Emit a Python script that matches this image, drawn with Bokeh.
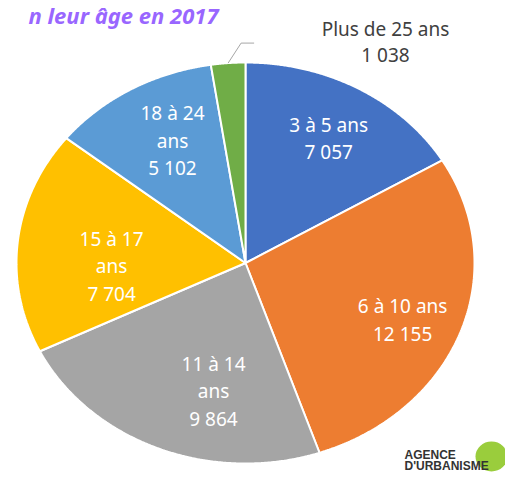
import numpy as np
from bokeh.plotting import figure
from bokeh.models import Range1d
from bokeh.core.properties import value
from bokeh.embed import file_html
from bokeh.resources import INLINE

# ---- data ----
categories = ["3 à 5 ans", "6 à 10 ans", "11 à 14 ans", "15 à 17 ans", "18 à 24 ans", "Plus de 25 ans"]
counts = [7057, 12155, 9864, 7704, 5102, 1038]
colors = ["#4472C4", "#ED7D31", "#A5A5A5", "#FFC000", "#5B9BD5", "#70AD47"]
title_text = "n leur âge en 2017"

# ---- layout (screen pixel space) ----
W, H = 505, 473
CX, CY = 245.0, 262.5
RX, RY = 229.0, 200.5
wrap = [False, False, True, True, True, False]
label_r = [0.72, 0.743, 0.655, 0.585, 0.688]
label_nudge = [-0.7, -2.4, 10.2, 7.7, -2.5]
LINE_GAP = 27.5
FONT = value("Noto Sans")

p = figure(width=W, height=H, output_backend="svg", toolbar_location=None,
           x_range=Range1d(0, W), y_range=Range1d(H, 0),
           min_border=0, outline_line_color=None, background_fill_color="white")
p.axis.visible = False
p.grid.visible = False

def fmt(v):
    return f"{v:,}".replace(",", " ")

total = float(sum(counts))
start = 90.0
xs, ys, mids = [], [], []
for v in counts:
    sweep = v / total * 360.0
    end = start - sweep
    th = np.radians(np.linspace(start, end, 200))
    px = np.concatenate([[CX], CX + RX * np.cos(th)])
    py = np.concatenate([[CY], CY - RY * np.sin(th)])
    xs.append(px.tolist())
    ys.append(py.tolist())
    mids.append((start + end) / 2.0)
    start = end

p.patches(xs, ys, fill_color=colors, line_color="white", line_width=2)

# inner labels
tx, ty, tt = [], [], []
for i in range(5):
    name = categories[i]
    if wrap[i]:
        lines = [name.rsplit(" ", 1)[0], name.rsplit(" ", 1)[1], fmt(counts[i])]
    else:
        lines = [name, fmt(counts[i])]
    a = np.radians(mids[i] + label_nudge[i])
    lx = CX + RX * label_r[i] * np.cos(a)
    ly = CY - RY * label_r[i] * np.sin(a)
    n = len(lines)
    for k, s in enumerate(lines):
        tx.append(lx)
        ty.append(ly + (k - (n - 1) / 2.0) * LINE_GAP)
        tt.append(s)
p.text(tx, ty, text=tt, text_color="white", text_font=FONT, text_font_size="19px",
       text_align="center", text_baseline="middle")

# outside label for the small slice with leader line
a = np.radians(mids[5])
sx, sy = CX + RX * np.cos(a), CY - RY * np.sin(a)
p.line([sx, sx + 13, sx + 26], [sy, sy - 20, sy - 20], line_color="#A6A6A6", line_width=1)
p.text([385, 385], [28, 54], text=[categories[5], fmt(counts[5])], text_color="#404040",
       text_font=FONT, text_font_size="19px", text_align="center", text_baseline="middle")

# title fragment
p.text([218], [14], text=[title_text], text_color="#9966FF", text_font=FONT,
       text_font_size="22px", text_font_style="bold italic",
       text_align="right", text_baseline="middle")

# logo
p.ellipse([491], [456], width=32, height=30, fill_color="#9ACD3C", line_color=None)
p.text([404, 404], [454, 465], text=["AGENCE", "D'URBANISME"], text_color="#333333",
       text_font=value("Liberation Sans"), text_font_size="12px", text_font_style="bold",
       text_align="left", text_baseline="middle")

open("out.html", "w").write(file_html(p, INLINE))
